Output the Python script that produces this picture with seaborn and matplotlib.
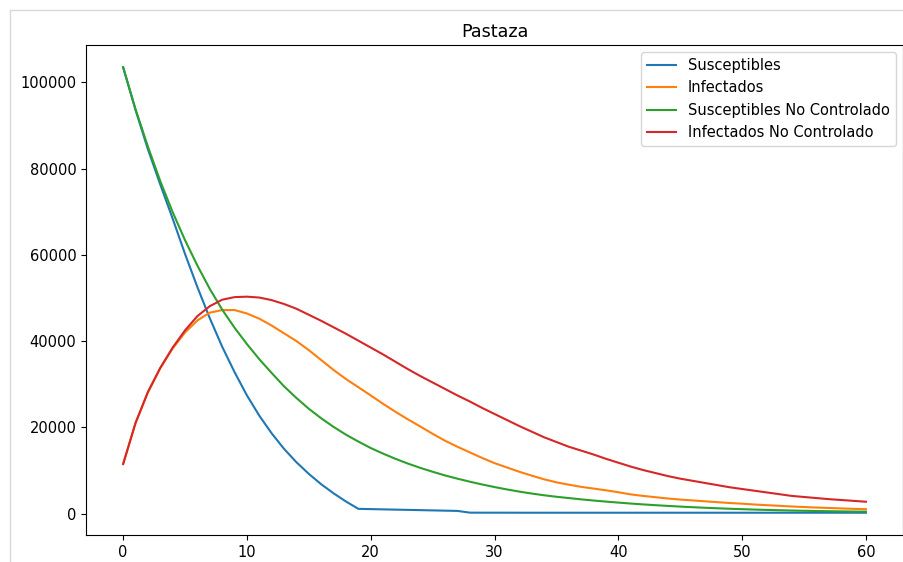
import numpy as np
import pandas as pd
import seaborn as sns
import matplotlib
matplotlib.use("Agg")
import matplotlib.pyplot as plt
from matplotlib.lines import Line2D

plt.rcParams["font.size"] = 10.5

# Days 0..60
days = list(range(61))

susceptibles = [
    103500, 93600, 84500, 76300, 68400, 60200, 52500, 45300, 38700, 32800,
    27400, 22700, 18600, 15000, 11900, 9200, 6800, 4700, 2800, 1100,
    1040, 980, 920, 860, 800, 740, 680, 620, 220, 210,
    210, 210, 200, 200, 200, 200, 200, 200, 200, 200,
    200, 200, 200, 200, 200, 200, 200, 200, 200, 200,
    200, 200, 200, 200, 200, 200, 200, 200, 200, 200,
    200,
]

infectados = [
    11500, 21000, 28100, 33700, 38300, 42000, 44800, 46600, 47200, 47200,
    46400, 45200, 43600, 41800, 40000, 37900, 35600, 33300, 31200, 29300,
    27400, 25450, 23600, 21850, 20200, 18500, 16900, 15500, 14200, 12900,
    11700, 10700, 9700, 8800, 7950, 7250, 6700, 6200, 5800, 5400,
    4950, 4450, 4100, 3800, 3500, 3250, 3050, 2850, 2650, 2450,
    2300, 2100, 1950, 1800, 1650, 1520, 1400, 1300, 1200, 1100,
    1020,
]

susceptibles_nc = [
    103500, 93800, 85100, 77100, 69900, 63400, 57500, 52100, 47300, 43100,
    39300, 35800, 32600, 29500, 26800, 24300, 22100, 20100, 18300, 16700,
    15200, 13900, 12700, 11600, 10600, 9700, 8850, 8100, 7400, 6750,
    6150, 5600, 5100, 4650, 4250, 3900, 3600, 3300, 3030, 2780,
    2550, 2330, 2130, 1950, 1780, 1620, 1480, 1350, 1230, 1120,
    1020, 930, 850, 780, 710, 650, 600, 550, 510, 470,
    440,
]

infectados_nc = [
    11500, 21000, 28200, 33800, 38500, 42500, 45800, 48100, 49600, 50200,
    50300, 50100, 49500, 48600, 47500, 46100, 44700, 43200, 41700, 40100,
    38500, 36900, 35200, 33500, 31900, 30400, 28900, 27400, 26000, 24500,
    23100, 21700, 20300, 19000, 17700, 16600, 15500, 14600, 13700, 12700,
    11800, 10900, 10100, 9400, 8700, 8100, 7600, 7100, 6600, 6100,
    5700, 5300, 4900, 4500, 4100, 3850, 3600, 3350, 3150, 2950,
    2750,
]

series = [
    ("Susceptibles", susceptibles, "C0"),
    ("Infectados", infectados, "C1"),
    ("Susceptibles No Controlado", susceptibles_nc, "C2"),
    ("Infectados No Controlado", infectados_nc, "C3"),
]

fig = plt.figure(figsize=(9.04, 5.62), dpi=100)
ax = fig.add_axes([86 / 904, 1 - 535 / 562, (904 - 86) / 904 - 0.001, (535 - 45) / 562])

for name, values, color in series:
    sns.lineplot(x=days, y=values, ax=ax, color=color, label=name)

ax.set_title("Pastaza")
ax.set_xlim(-3, 63)
ax.legend(loc="upper right")

# notebook output frame
frame = "#d9d9d9"
fig.add_artist(Line2D([10 / 904, 10 / 904], [0, 1 - 10 / 562], color=frame, lw=1, transform=fig.transFigure))
fig.add_artist(Line2D([10 / 904, 1], [1 - 10 / 562, 1 - 10 / 562], color=frame, lw=1, transform=fig.transFigure))

fig.savefig("out.png", dpi=100)
